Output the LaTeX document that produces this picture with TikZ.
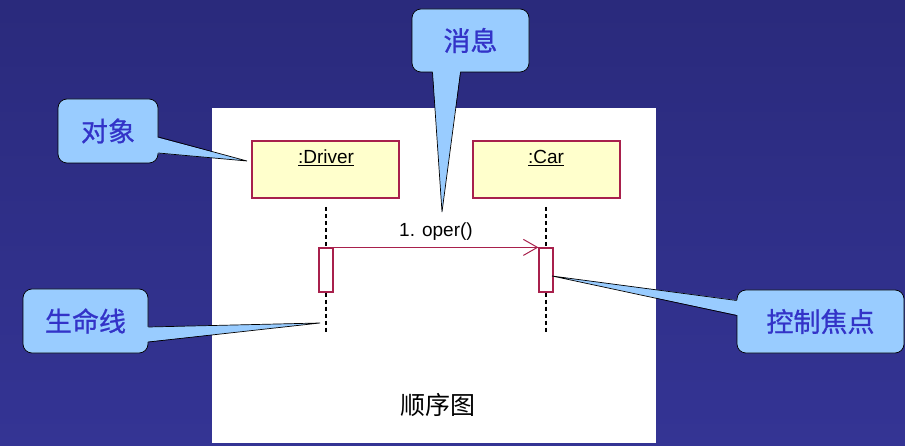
\documentclass[tikz,border=0pt]{standalone}
\usepackage{fontspec}
\setsansfont{Liberation Sans}
\newfontfamily\cjk{Noto Sans CJK SC}
\newfontfamily\cjkheavy[FakeBold=0.8]{Noto Sans CJK SC}
\usetikzlibrary{arrows.meta,positioning,calc}
\definecolor{navytop}{HTML}{2A2A7C}
\definecolor{navybot}{HTML}{343494}
\definecolor{callfill}{HTML}{99CCFF}
\definecolor{calltext}{HTML}{3333C8}
\definecolor{objfill}{HTML}{FFFFCC}
\definecolor{crimson}{HTML}{A8204C}
\tikzset{
callout/.style={draw=black,fill=callfill,rounded corners=9pt,line width=.7pt,inner sep=0pt,
  font=\cjkheavy\fontsize{27}{30}\selectfont,text=calltext},
objbox/.style={draw=crimson,fill=objfill,line width=1.2pt,minimum width=147pt,minimum height=57pt,inner sep=0pt},
objlabel/.style={font=\sffamily\fontsize{19}{21}\selectfont,text=black},
actbox/.style={draw=crimson,fill=white,line width=1.2pt,minimum width=14pt,minimum height=44pt,inner sep=0pt},
life/.style={dash pattern=on 4pt off 3pt,line width=1.3pt,draw=black},
msg/.style={-{Straight Barb[length=14pt,width=16pt,line width=1pt]},line width=1.2pt,draw=crimson}}

\begin{document}
\begin{tikzpicture}[x=1pt,y=-1pt]
\useasboundingbox (0,0) rectangle (905,446);
\shade[top color=navytop,bottom color=navybot] (0,0) rectangle (905,446);
\fill[white] (212,108) rectangle (656,443);
% objects
\node[objbox] (driver) at (325.5,169.5) {};
\node[objbox] (car) at (546.5,169.5) {};
\node[objlabel] at (326,158) {\underline{:Driver}};
\node[objlabel] at (546,158) {\underline{:Car}};
% activations
\node[actbox] (actd) at (326,270) {};
\node[actbox] (actc) at (546,270) {};
\draw[life] (326,207)--(actd.north);
\draw[life] (actd.south)--(326,334);
\draw[life] (546,207)--(actc.north);
\draw[life] (actc.south)--(546,334);
\draw[msg] (actd.north east)--(actc.north west)
  node[midway,above=3pt,objlabel] (oper) {1. oper()};
\node[font=\cjk\fontsize{25}{27}\selectfont] (title) at (438,405) {顺序图};
% callout tips
\coordinate (tipobj) at (247,161);
\coordinate (tipmsg) at (442,212);
\coordinate (tiplife) at (320,323);
\coordinate (tipfoc) at (552,276);
% callouts
\node[callout,minimum width=100pt,minimum height=64pt] (cobj) at (108,131) {对象};
\node[callout,minimum width=117pt,minimum height=63pt] (cmsg) at (470.5,40.5) {消息};
\node[callout,minimum width=125pt,minimum height=64pt] (clife) at (85.5,321) {生命线};
\node[callout,minimum width=167pt,minimum height=63pt] (cfoc) at (820.5,321.5) {控制焦点};
% tails
\fill[callfill] ($(cobj.east)+(-3,6)$)--(tipobj)--($(cobj.east)+(-3,22)$)--cycle;
\draw[line width=.7pt] ($(cobj.east)+(0,6)$)--(tipobj)--($(cobj.east)+(0,22)$);
\fill[callfill] ($(cmsg.south)+(-38,-3)$)--(tipmsg)--($(cmsg.south)+(-10,-3)$)--cycle;
\draw[line width=.7pt] ($(cmsg.south)+(-38,0)$)--(tipmsg)--($(cmsg.south)+(-10,0)$);
\fill[callfill] ($(clife.east)+(-3,6)$)--(tiplife)--($(clife.east)+(-3,21)$)--cycle;
\draw[line width=.7pt] ($(clife.east)+(0,6)$)--(tiplife)--($(clife.east)+(0,21)$);
\fill[callfill] ($(cfoc.west)+(3,-21)$)--(tipfoc)--($(cfoc.west)+(3,-6)$)--cycle;
\draw[line width=.7pt] ($(cfoc.west)+(0,-21)$)--(tipfoc)--($(cfoc.west)+(0,-6)$);
\end{tikzpicture}
\end{document}
